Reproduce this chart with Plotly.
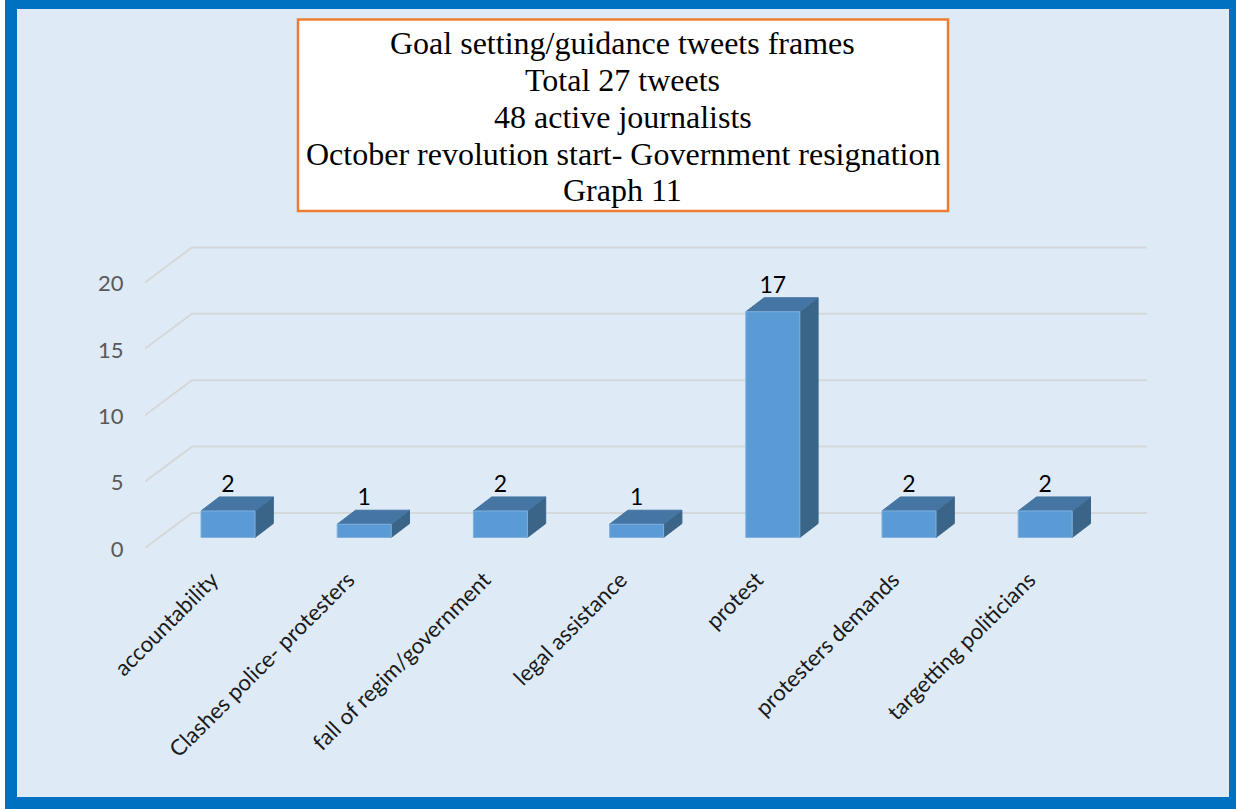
import plotly.graph_objects as go

categories = ["accountability", "Clashes police- protesters", "fall of regim/government",
              "legal assistance", "protest", "protesters demands", "targetting politicians"]
values = [2, 1, 2, 1, 17, 2, 2]
y_ticks = [0, 5, 10, 15, 20]
title_lines = ["Goal setting/guidance tweets frames", "Total 27 tweets", "48 active journalists",
               "October revolution start- Government resignation", "Graph 11"]
title_line_y = [43, 80, 117, 154, 190]

# page geometry (pixels)
W, H = 1236, 809
L, R, T, B = 145, 1147, 240, 548
PX_X = 136.2          # pixels per category
PX_Y = 13.28          # pixels per value unit
xmin = (L - 228) / PX_X
xmax = (R - 228) / PX_X
ymax = (B - T) / PX_Y

# 3-D look, expressed in axis units
wall_dx, wall_dy = 47 / PX_X, 35 / PX_Y
bar_w = 54 / PX_X
bar_base = 10.5 / PX_Y
bar_dx, bar_dy = 18.3 / PX_X, 14 / PX_Y
label_drop = 1 / PX_Y

FRONT, TOP, SIDE = "#5b9bd5", "#4575a2", "#3a6589"
EDGE = "#7fb0de"
GRID = "#d5d8d9"

fig = go.Figure()

# perspective gridlines
for v in y_ticks:
    fig.add_trace(go.Scatter(
        x=[xmin, xmin + wall_dx, xmax], y=[v, v + wall_dy, v + wall_dy],
        mode="lines", line=dict(color=GRID, width=2), hoverinfo="skip", showlegend=False))

# bar faces
for i, v in enumerate(values):
    x0, x1 = i - bar_w / 2, i + bar_w / 2
    y0, y1 = bar_base, bar_base + v
    fig.add_trace(go.Scatter(
        x=[x1, x1 + bar_dx, x1 + bar_dx, x1, x1], y=[y0, y0 + bar_dy, y1 + bar_dy, y1, y0],
        mode="lines", fill="toself", fillcolor=SIDE, line=dict(color=SIDE, width=1),
        hoverinfo="skip", showlegend=False))
    fig.add_trace(go.Scatter(
        x=[x0, x0 + bar_dx, x1 + bar_dx, x1, x0], y=[y1, y1 + bar_dy, y1 + bar_dy, y1, y1],
        mode="lines", fill="toself", fillcolor=TOP, line=dict(color=TOP, width=1),
        hoverinfo="skip", showlegend=False))
    fig.add_trace(go.Scatter(
        x=[x0, x1, x1, x0, x0], y=[y0, y0, y1, y1, y0],
        mode="lines", fill="toself", fillcolor=FRONT, line=dict(color=EDGE, width=1),
        name=categories[i], showlegend=False))

# data labels
fig.add_trace(go.Scatter(
    x=list(range(len(values))), y=[v + bar_base + bar_dy - label_drop for v in values],
    mode="text", text=[str(v) for v in values], textposition="top center",
    textfont=dict(family="Lato", size=23, color="#000000"), hoverinfo="skip", showlegend=False))


def px(p):
    return (p - L) / (R - L)


def py(p):
    return (B - p) / (B - T)


annotations = [dict(
    xref="paper", yref="paper", x=px(622.5), y=py(ly), xanchor="center", yanchor="middle",
    text=line, showarrow=False, align="center",
    font=dict(family="Liberation Serif", size=32, color="#000000"))
    for line, ly in zip(title_lines, title_line_y)]

fig.update_layout(
    width=W, height=H,
    margin=dict(l=L, r=W - R, t=T, b=H - B, pad=0, autoexpand=False),
    paper_bgcolor="#0070c0",
    plot_bgcolor="rgba(0,0,0,0)",
    showlegend=False,
    xaxis=dict(
        range=[xmin, xmax], tickmode="array", tickvals=list(range(len(categories))), ticktext=categories,
        tickangle=-45, showgrid=False, zeroline=False, showline=False,
        ticks="outside", ticklen=9, tickcolor="rgba(0,0,0,0)", ticklabelshift=-16,
        tickfont=dict(family="Lato", size=22.2, color="#1a1a1a")),
    yaxis=dict(
        range=[0, ymax], tickmode="array", tickvals=y_ticks, showgrid=False, zeroline=False, showline=False,
        ticks="outside", ticklen=16, tickcolor="rgba(0,0,0,0)", ticklabelshift=1,
        tickfont=dict(family="Lato", size=22, color="#595959")),
    shapes=[
        dict(type="rect", xref="paper", yref="paper", x0=px(17), x1=px(1229), y0=py(797), y1=py(9),
             fillcolor="#deeaf6", line=dict(width=0), layer="below"),
        dict(type="rect", xref="paper", yref="paper", x0=px(0), x1=px(5), y0=py(809), y1=py(0),
             fillcolor="#ffffff", line=dict(width=0), layer="below"),
        dict(type="rect", xref="paper", yref="paper", x0=px(298), x1=px(948), y0=py(211), y1=py(19.5),
             fillcolor="#ffffff", line=dict(color="#ed7d31", width=2.5), layer="below"),
    ],
    annotations=annotations,
)

fig.write_html("out.html", config={"displayModeBar": False},
               post_script="document.body.style.margin='0';")
